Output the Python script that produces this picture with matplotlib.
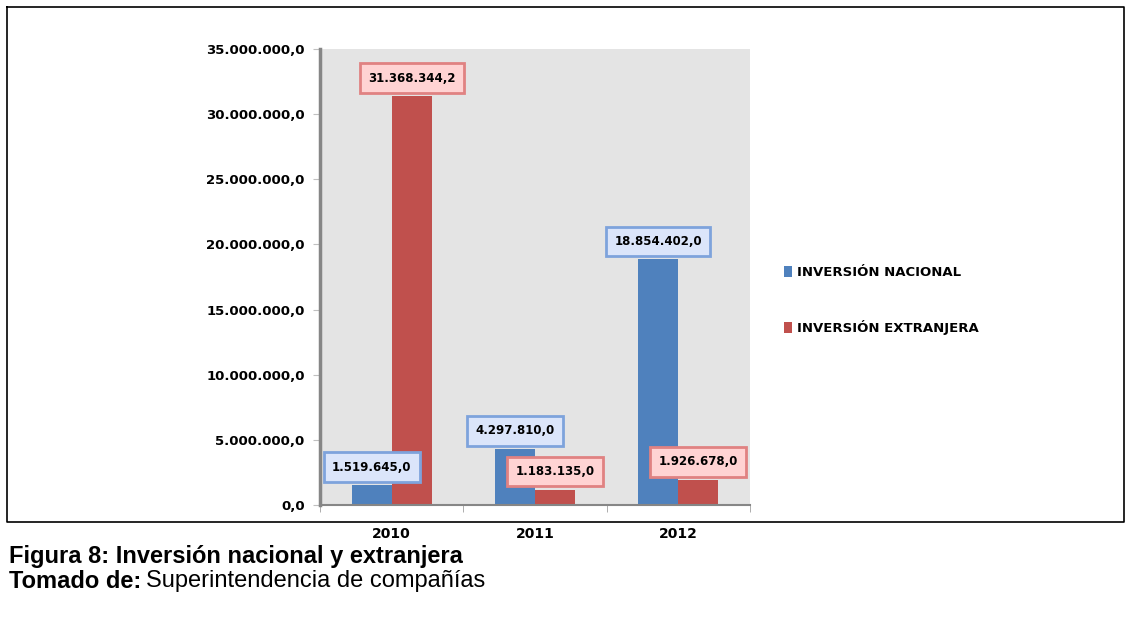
import numpy as np
import matplotlib.pyplot as plt
from matplotlib.lines import Line2D
from matplotlib.ticker import FuncFormatter

years = ['2010', '2011', '2012']
nacional = [1519645.0, 4297810.0, 18854402.0]
extranjera = [31368344.2, 1183135.0, 1926678.0]
series_names = ['INVERSIÓN NACIONAL', 'INVERSIÓN EXTRANJERA']


def fmt_es(v, decimals=1):
    s = f'{v:,.{decimals}f}'
    return s.replace(',', 'X').replace('.', ',').replace('X', '.')


W, H = 1131, 641
fig = plt.figure(figsize=(W / 100, H / 100), dpi=100)
fig.patch.set_facecolor('white')

# frame around the chart block
box = [(7, 7), (1124, 7), (1124, 522), (7, 522), (7, 7)]
fig.add_artist(Line2D([p[0] / W for p in box], [1 - p[1] / H for p in box],
                      transform=fig.transFigure, color='black', lw=1.2))

ax = fig.add_axes([320 / W, 1 - 505 / H, 430 / W, 456 / H])
ax.set_facecolor('#e4e4e4')

blue, red = '#4f81bd', '#c0504d'
x = np.arange(len(years))
w = 0.28
b1 = ax.bar(x - w / 2, nacional, w, color=blue, label=series_names[0], zorder=2)
b2 = ax.bar(x + w / 2, extranjera, w, color=red, label=series_names[1], zorder=2)

ax.set_xlim(-0.5, 2.5)
ax.set_ylim(0, 35000000)
ax.set_yticks(np.arange(0, 35000001, 5000000))
ax.yaxis.set_major_formatter(FuncFormatter(lambda v, p: fmt_es(v)))
ax.set_xticks(x)
ax.set_xticklabels(years)
ax.set_xticks([-0.5, 0.5, 1.5, 2.5], minor=True)
ax.tick_params(axis='x', which='major', length=0, pad=16)
ax.tick_params(axis='x', which='minor', length=5, color='#a0a0a0')
ax.tick_params(axis='y', length=5, color='#c0c0c0', pad=6)
for lab in ax.get_yticklabels():
    lab.set_fontsize(9.5)
    lab.set_fontweight('bold')
for lab in ax.get_xticklabels():
    lab.set_fontsize(10)
    lab.set_fontweight('bold')

for side in ['top', 'right']:
    ax.spines[side].set_visible(False)
ax.spines['left'].set_color('#868686')
ax.spines['left'].set_linewidth(2.5)
ax.spines['bottom'].set_color('#868686')
ax.spines['bottom'].set_linewidth(1.5)

# value labels in boxes above each bar
for bars, vals, fc, ec in [(b1, nacional, '#dbe5fa', '#7ea3dc'),
                           (b2, extranjera, '#ffd3d3', '#e08282')]:
    for rect, v in zip(bars, vals):
        ax.annotate(fmt_es(v), (rect.get_x() + rect.get_width() / 2, v),
                    xytext=(0, 13), textcoords='offset points',
                    ha='center', va='center', fontsize=8.5, fontweight='bold',
                    bbox=dict(boxstyle='square,pad=0.7', fc=fc, ec=ec, lw=2),
                    zorder=5)

ax.legend(loc='upper left', bbox_to_anchor=(772 / W, 1 - 254 / H),
          bbox_transform=fig.transFigure, frameon=False,
          prop={'weight': 'bold', 'size': 9.5},
          labelspacing=3.1, handlelength=0.6, handleheight=0.9,
          handletextpad=0.4)

fig.text(9 / W, 1 - 557 / H, 'Figura 8: Inversión nacional y extranjera',
         fontsize=17, fontweight='bold', family='Liberation Sans', va='center')
t = fig.text(9 / W, 1 - 581 / H, 'Tomado de:', fontsize=17, fontweight='bold',
             family='Liberation Sans', va='center')
fig.canvas.draw()
bb = t.get_window_extent()
fig.text((bb.x1 + 5) / W, 1 - 581 / H, 'Superintendencia de compañías',
         fontsize=17, family='Liberation Sans', va='center')

fig.savefig('out.png', dpi=100)
